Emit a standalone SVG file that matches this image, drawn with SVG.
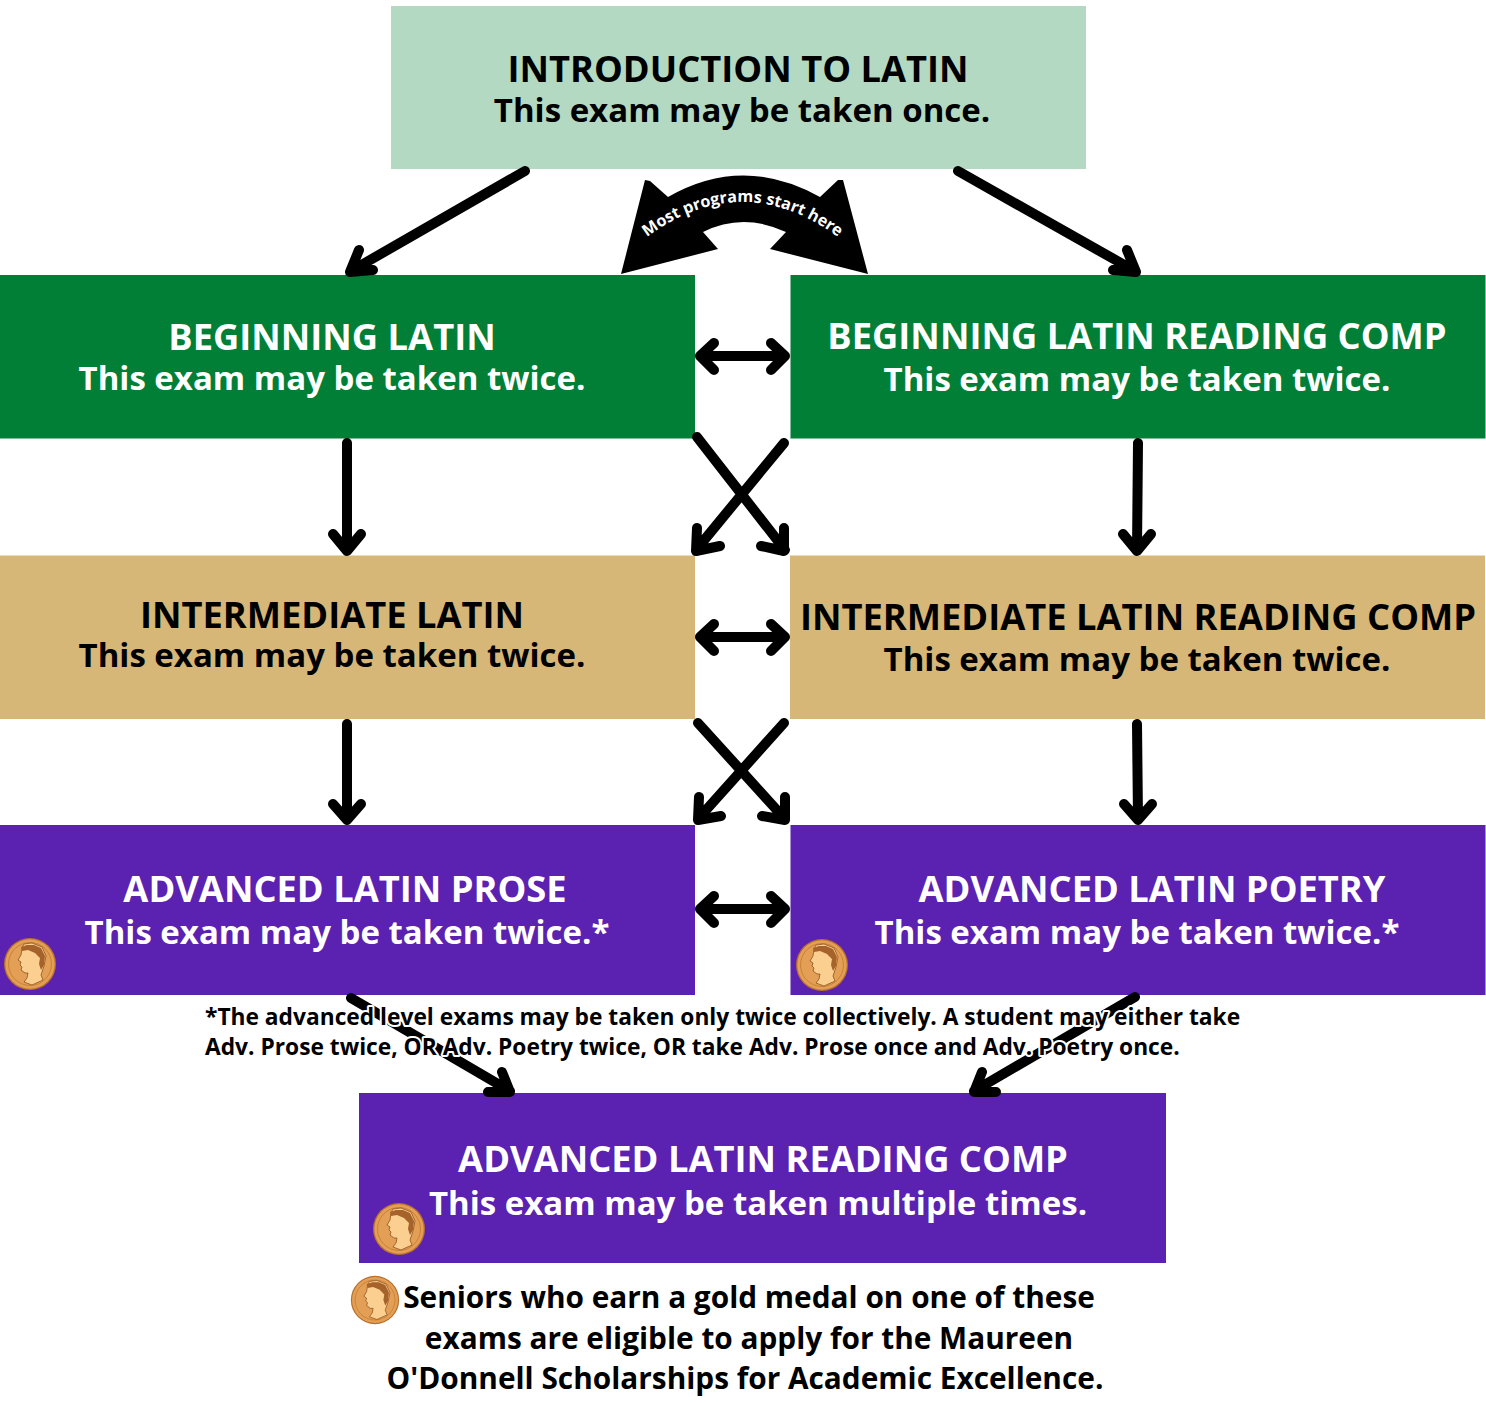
<svg xmlns="http://www.w3.org/2000/svg" width="1486" height="1403" viewBox="0 0 1486 1403">
<style>
text{font-family:"Open Sans","Noto Sans","Liberation Sans",sans-serif;font-weight:700;text-anchor:middle}
.h{font-size:36.3px}.s{font-size:33px}
.k{fill:#000}.w{fill:#fff}
.n{font-size:22.75px;text-anchor:start;fill:#000;paint-order:stroke;stroke:#fff;stroke-width:4px;stroke-linejoin:round}
.f{font-size:29.8px;fill:#000}
.c{fill:none;stroke:#000;stroke-width:10px;stroke-linecap:round;stroke-linejoin:round}
</style>
<defs>
<g id="coin">
<circle r="26" fill="#b8702c"/><circle r="24.7" fill="#e39f55"/><circle r="21.5" fill="#e39f55" stroke="#c98238" stroke-width="1"/>
<path d="M-8-16-9-9-12-4-9-2-10 1-8 3-9 6-5 9-2 9-3 14-6 18 2 21 13 16 11 11 14 2 16-8 12-17 2-21-6-20Z" fill="#fbcf8f" stroke="#8f5220" stroke-width=".8"/>
<path d="M-9-17-3-19 4-19 11-16 15-8 14 1 11 6 9 0 10-6 5-11-2-14-8-13Z" fill="#a5622a"/>
</g>
</defs>
<rect width="1486" height="1403" fill="#fff"/>
<g id="intro"><rect x="391" y="6" width="695" height="163" fill="#b3d9c3"/><text class="h k" x="738" y="82">INTRODUCTION TO LATIN</text><text class="s k" x="742" y="122">This exam may be taken once.</text></g>
<g id="beginning"><rect y="275" width="695" height="163.500" fill="#027f36"/><text class="h w" x="332" y="350">BEGINNING LATIN</text><text class="s w" x="332" y="390">This exam may be taken twice.</text></g>
<g id="beginning-rc"><rect x="790.500" y="275" width="695" height="163.500" fill="#027f36"/><text class="h w" x="1137" y="349">BEGINNING LATIN READING COMP</text><text class="s w" x="1137" y="391">This exam may be taken twice.</text></g>
<g id="intermediate"><rect y="555.500" width="695" height="163.500" fill="#d6b777"/><text class="h k" x="332" y="628">INTERMEDIATE LATIN</text><text class="s k" x="332" y="667">This exam may be taken twice.</text></g>
<g id="intermediate-rc"><rect x="790" y="555.500" width="695" height="163.500" fill="#d6b777"/><text class="h k" x="1138" y="630">INTERMEDIATE LATIN READING COMP</text><text class="s k" x="1137" y="671">This exam may be taken twice.</text></g>
<g id="adv-prose"><rect y="825" width="695" height="170" fill="#5b21b0"/><text class="h w" x="345" y="902">ADVANCED LATIN PROSE</text><text class="s w" x="347" y="944">This exam may be taken twice.*</text><use href="#coin" x="30" y="964"/></g>
<g id="adv-poetry"><rect x="790.500" y="825" width="695" height="170" fill="#5b21b0"/><text class="h w" x="1152" y="902">ADVANCED LATIN POETRY</text><text class="s w" x="1137" y="944">This exam may be taken twice.*</text><use href="#coin" x="822" y="965"/></g>
<g id="adv-rc"><rect x="359" y="1093" width="807" height="170" fill="#5b21b0"/><text class="h w" x="763" y="1172">ADVANCED LATIN READING COMP</text><text class="s w" x="758" y="1215">This exam may be taken multiple times.</text><use href="#coin" x="399" y="1229"/></g>
<g id="connectors">
<path class="c" d="M525 171 351 271M373 270 350 272 359 250M958 171 1135 271M1113 270 1136 272 1127 250"/>
<path class="c" d="M347 443V550M333 534 347 551 361 534M1138 443 1137 550M1123 534 1137 551 1151 534"/>
<path class="c" d="M700 356H785M714 343 700 356 714 370M771 343 785 356 771 370"/>
<path class="c" d="M697 437 785 550M784 528 784 551 761 546M784 443 696 550M697 528 696 551 720 546"/>
<path class="c" d="M700 637H785M714 624 700 637 714 651M771 624 785 637 771 651"/>
<path class="c" d="M347 724V819M333 804 347 820 361 804M1137 724 1138 819M1124 804 1138 820 1152 804"/>
<path class="c" d="M698 723 785 819M785 797 785 820 762 816M784 723 698 819M699 797 698 820 721 816"/>
<path class="c" d="M700 909H785M714 896 700 909 714 923M771 896 785 909 771 923"/>
<path class="c" d="M351 998 510 1091M488 1092 510 1092 502 1072M1135 997 974 1091M996 1092 974 1092 982 1072"/>
<path id="start-arrow" class="k" d="M621 274 645 180 650 181 668 197Q743 154 820 197L838 180 843 180 868 274 770 249 786 232Q743 212 703 232L718 249Z"/>
<path id="tp" fill="none" d="M643 240Q742 164 842 240"/>
<text font-size="16.2" class="w"><textPath href="#tp" startOffset="50%">Most programs start here</textPath></text>
</g>
<g id="footnote"><text class="n" x="205" y="1025">*The advanced level exams may be taken only twice collectively. A student may either take</text><text class="n" x="205" y="1055">Adv. Prose twice, OR Adv. Poetry twice, OR take Adv. Prose once and Adv. Poetry once.</text></g>
<g id="medal-note"><use href="#coin" transform="translate(375 1300) scale(.93)"/><text class="f" x="749" y="1308">Seniors who earn a gold medal on one of these</text><text class="f" x="749" y="1349">exams are eligible to apply for the Maureen</text><text class="f" x="745" y="1389">O'Donnell Scholarships for Academic Excellence.</text></g>
</svg>
